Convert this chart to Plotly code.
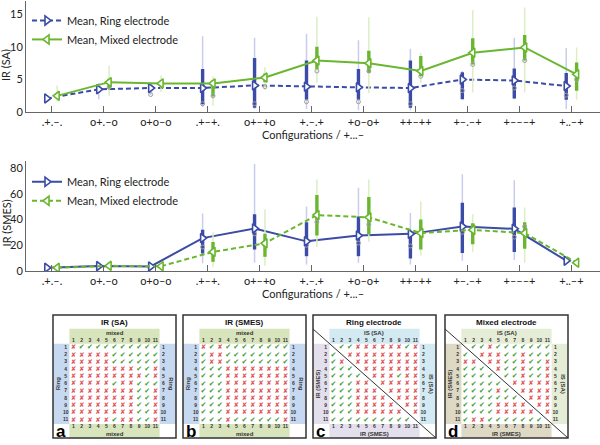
import plotly.graph_objects as go

# ---------------- data ----------------
configs = [".+.–.", "o+.–o", "o+o–o", ".+–+.", "o+–+o", "+.–.+", "+o–o+", "++–++", "+–.–+", "+–––+", "+..–+"]

# IR (SA) – ring electrode
sa_ring_mean = [2.1, 3.5, 3.7, 3.7, 4.1, 3.9, 3.8, 3.7, 5.0, 4.85, 4.0]
sa_ring_q1 = [1.9, 3.1, 3.2, 1.2, 0.7, 1.9, 1.9, 0.7, 2.0, 2.1, 1.9]
sa_ring_q3 = [2.3, 3.9, 3.9, 6.6, 8.3, 7.9, 6.6, 7.9, 6.1, 6.7, 6.0]
sa_ring_lo = [1.8, 2.0, 2.6, 0.8, 0.5, 0.5, 0.3, 0.3, 1.9, 2.0, 0.5]
sa_ring_hi = [2.4, 4.5, 4.2, 11.6, 11.4, 12.0, 11.0, 9.7, 6.3, 11.4, 9.8]
sa_ring_med = [2.0, 3.3, 2.7, 1.3, 1.3, 1.6, 1.6, 1.3, 3.3, 3.7, 2.6]

# IR (SA) – mixed electrode
sa_mix_mean = [2.5, 4.6, 4.4, 4.4, 5.3, 7.9, 7.5, 6.3, 9.1, 9.9, 5.8]
sa_mix_q1 = [2.2, 3.6, 4.0, 2.4, 4.6, 6.6, 6.0, 5.5, 7.3, 7.9, 3.3]
sa_mix_q3 = [2.8, 5.1, 4.8, 4.9, 5.9, 10.0, 9.4, 8.6, 11.3, 11.8, 7.6]
sa_mix_lo = [1.6, 2.5, 3.1, 1.0, 3.4, 4.5, 2.9, 4.5, 3.0, 3.0, 1.9]
sa_mix_hi = [4.1, 7.1, 5.6, 5.5, 6.9, 14.6, 14.5, 9.1, 15.6, 16.0, 9.9]
sa_mix_med = [2.4, 3.8, 4.2, 2.5, 3.9, 6.3, 6.3, 5.5, 7.3, 7.9, 5.0]

# IR (SMES) – ring electrode
smes_ring_mean = [2.5, 3.8, 3.5, 25.5, 33.0, 23.0, 27.5, 28.8, 34.5, 32.7, 8.0]
smes_ring_q1 = [2.0, 3.3, 3.0, 13.5, 16.6, 11.5, 11.5, 9.7, 14.0, 14.8, 7.0]
smes_ring_q3 = [3.0, 4.3, 4.0, 32.0, 44.0, 37.8, 42.2, 31.0, 53.0, 49.3, 9.0]
smes_ring_lo = [1.5, 2.8, 2.5, 6.0, 6.4, 5.0, 6.4, 5.0, 8.0, 8.5, 6.0]
smes_ring_hi = [3.5, 4.8, 4.5, 44.7, 83.0, 50.0, 64.6, 45.0, 75.0, 70.5, 10.0]
smes_ring_med = [2.3, 3.6, 3.2, 18.6, 28.8, 20.0, 21.7, 19.4, 30.0, 26.3, 7.8]

# IR (SMES) – mixed electrode
smes_mix_mean = [2.5, 4.0, 3.7, 14.8, 21.5, 43.4, 41.6, 29.4, 31.9, 29.4, 6.4]
smes_mix_q1 = [2.2, 3.5, 3.3, 7.1, 11.0, 27.6, 28.4, 16.6, 20.7, 17.3, 6.0]
smes_mix_q3 = [2.8, 4.5, 4.1, 22.5, 28.8, 59.0, 57.5, 40.0, 37.0, 37.8, 7.0]
smes_mix_lo = [1.8, 3.0, 3.0, 3.0, 4.0, 18.6, 22.5, 12.0, 15.0, 6.4, 5.5]
smes_mix_hi = [3.2, 5.0, 4.5, 30.0, 48.0, 71.0, 71.0, 54.0, 44.0, 49.3, 7.5]
smes_mix_med = [2.4, 3.8, 3.5, 13.5, 20.0, 38.0, 36.0, 30.0, 33.0, 34.5, 6.3]

# significance grids: v = check, x = cross, . = empty
grid_a = [
    "xvvvvvvvvvv",
    "xxxxxvvvvvv",
    "xxxxxvvvvvv",
    "xxxxxxxxvvx",
    "xxxxxxxxxvx",
    "xxxxxvxxvvv",
    "xxxxxxxxvvx",
    "xxxxxxxxvvx",
    "xxxxxxxxvvx",
    "xxxxxxxxvvx",
    "xxxxxvxxvvx",
]
grid_b = [
    "xvxvvvvvvvv",
    "vxxvvvvvvvv",
    "vxxvvvvvvvv",
    "vvvxxxxxxxx",
    "vvvxxxxxxxx",
    "vvvxxxxxxxx",
    "vvvxxxxxxxx",
    "vvvxxxxxxxx",
    "vvvxxxxxxxx",
    "vvvxxxxxxxx",
    "vvvxvvvvvvx",
]
grid_c = [
    ".vvxxxxxxvx",
    "v.xxxxxxxxx",
    "vx.xxxxxxxx",
    "vvv.xxxxxxx",
    "vvvv.xxxvxx",
    "vvvxx.xxxxx",
    "vvvxxx.xxxx",
    "vvvxxxx.xxx",
    "vvvxxxxx.xx",
    "vvvxxxxxx.x",
    "vvvvvvvvvv.",
]
grid_d = [
    ".vvxvvvvvvv",
    "v.xxxvvxvvv",
    "xx.xxvvxvvx",
    "vvv.xvvxvvx",
    "vvvv.vvxvvx",
    "vvvvv.xxxxx",
    "vvvvxv.xxxx",
    "vvvvvvv.xxx",
    "vvvvxxxx.xx",
    "vvvvxxxxx.x",
    "vxxvvvvvvv.",
]
grid_numbers = [str(i) for i in range(1, 12)]

# ---------------- styling ----------------
W, H = 600, 445
BLUE = "#3B4BA6"
GREEN = "#68B72F"
LBLUE = "#C9CDEB"
LGREEN = "#DDEDC4"
FONT = "Lato"
TXT = "#222222"


def fx(p):
    return p / W


def fy(p):
    return 1 - p / H


fig = go.Figure()


def seg(xs, lo, hi, color, width, xa, ya):
    X, Y = [], []
    for x, a, b in zip(xs, lo, hi):
        X += [x, x, None]
        Y += [a, b, None]
    return go.Scatter(x=X, y=Y, mode="lines", line=dict(color=color, width=width),
                      showlegend=False, hoverinfo="skip", xaxis=xa, yaxis=ya)


def add_group(offset, mean, q1, q3, lo, hi, med, color, light, dash, symbol, name, xa, ya, legend):
    xs = [i + offset for i in range(len(configs))]
    fig.add_trace(seg(xs, lo, hi, light, 1.5, xa, ya))
    fig.add_trace(seg(xs, q1, q3, color, 3.4, xa, ya))
    fig.add_trace(go.Scatter(x=xs, y=med, mode="markers", showlegend=False, hoverinfo="skip",
                             marker=dict(symbol="circle-open", size=4, color="#a0a0a0", line=dict(width=1)),
                             xaxis=xa, yaxis=ya))
    fig.add_trace(go.Scatter(x=xs, y=mean, mode="lines+markers", name=name,
                             line=dict(color=color, width=2, dash=dash),
                             marker=dict(symbol=symbol, size=8, color="white", line=dict(color=color, width=1.6)),
                             xaxis=xa, yaxis=ya, legend=legend))


DASH = "5px,3px"
add_group(-0.1, sa_ring_mean, sa_ring_q1, sa_ring_q3, sa_ring_lo, sa_ring_hi, sa_ring_med,
          BLUE, LBLUE, DASH, "triangle-right", "Mean, Ring electrode", "x", "y", "legend")
add_group(0.1, sa_mix_mean, sa_mix_q1, sa_mix_q3, sa_mix_lo, sa_mix_hi, sa_mix_med,
          GREEN, LGREEN, "solid", "triangle-left", "Mean, Mixed electrode", "x", "y", "legend")
add_group(-0.1, smes_ring_mean, smes_ring_q1, smes_ring_q3, smes_ring_lo, smes_ring_hi, smes_ring_med,
          BLUE, LBLUE, "solid", "triangle-right", "Mean, Ring electrode", "x2", "y2", "legend2")
add_group(0.1, smes_mix_mean, smes_mix_q1, smes_mix_q3, smes_mix_lo, smes_mix_hi, smes_mix_med,
          GREEN, LGREEN, DASH, "triangle-left", "Mean, Mixed electrode", "x2", "y2", "legend2")

xax = dict(range=[-0.5, 10.55], tickvals=list(range(len(configs))), ticktext=configs,
           ticks="inside", ticklen=6, tickcolor="#666", showline=True, linecolor="#666",
           linewidth=1, showgrid=False, zeroline=False, tickfont=dict(size=11, color=TXT, family=FONT),
           title=dict(text="Configurations / +...–", font=dict(size=11, color=TXT, family=FONT), standoff=0))
yax = dict(showline=True, linecolor="#666", linewidth=1, showgrid=False, zeroline=False,
           ticks="", tickfont=dict(size=11, color=TXT, family=FONT))

layout = dict(
    width=W, height=H, margin=dict(l=0, r=0, t=0, b=0),
    paper_bgcolor="white", plot_bgcolor="white", showlegend=True,
    font=dict(family=FONT, color=TXT),
    xaxis=dict(xax, domain=[fx(26), 1], anchor="y"),
    yaxis=dict(yax, domain=[fy(113), 1], range=[0, 17], tickvals=[0, 5, 10, 15], anchor="x"),
    xaxis2=dict(xax, domain=[fx(26), 1], anchor="y2"),
    yaxis2=dict(yax, domain=[fy(274.3), fy(163)], range=[0, 85], tickvals=[0, 20, 40, 60, 80], anchor="x2"),
    legend=dict(x=fx(27), y=fy(5), xanchor="left", yanchor="top", bgcolor="rgba(0,0,0,0)",
                font=dict(size=11, family=FONT, color=TXT), itemwidth=30, tracegroupgap=0),
    legend2=dict(x=fx(27), y=fy(169), xanchor="left", yanchor="top", bgcolor="rgba(0,0,0,0)",
                 font=dict(size=11, family=FONT, color=TXT), itemwidth=30, tracegroupgap=0),
)

annotations = [
    dict(text="IR (SA)", x=fx(6), y=fy(65), xref="paper", yref="paper", showarrow=False,
         xanchor="center", yanchor="middle", textangle=-90, font=dict(size=11, family=FONT, color=TXT)),
    dict(text="IR (SMES)", x=fx(6), y=fy(226), xref="paper", yref="paper", showarrow=False,
         xanchor="center", yanchor="middle", textangle=-90, font=dict(size=11, family=FONT, color=TXT)),
]
shapes = []

# ---------------- bottom panels ----------------
panels = [
    dict(letter="a", title="IR (SA)", grid=grid_a, left=53, top_lab="mixed", bot_lab="mixed",
         left_lab="Ring", right_lab="Ring", c_top="#D8E4BC", c_bot="#D8E4BC", c_left="#C6D9F0",
         c_right="#C6D9F0", diag=False),
    dict(letter="b", title="IR (SMES)", grid=grid_b, left=183, top_lab="mixed", bot_lab="mixed",
         left_lab="Ring", right_lab="Ring", c_top="#D8E4BC", c_bot="#D8E4BC", c_left="#C6D9F0",
         c_right="#C6D9F0", diag=False),
    dict(letter="c", title="Ring electrode", grid=grid_c, left=313, top_lab="IS (SA)", bot_lab="IR (SMES)",
         left_lab="IR (SMES)", right_lab="IS (SA)", c_top="#D3EAF3", c_bot="#E4DFEC", c_left="#E4DFEC",
         c_right="#D3EAF3", diag=True),
    dict(letter="d", title="Mixed electrode", grid=grid_d, left=445, top_lab="IS (SA)", bot_lab="IR (SMES)",
         left_lab="IR (SMES)", right_lab="IS (SA)", c_top="#E6EDD6", c_bot="#DDD9C4", c_left="#DDD9C4",
         c_right="#E6EDD6", diag=True),
]

PW = 123
for k, p in enumerate(panels):
    n = k + 3
    xa, ya = f"x{n}", f"y{n}"
    layout[f"xaxis{n}"] = dict(domain=[fx(p["left"]), fx(p["left"] + PW)], range=[-1.5, 13.5],
                               visible=False, anchor=ya, fixedrange=True)
    layout[f"yaxis{n}"] = dict(domain=[fy(444), fy(319)], range=[13.5, -3.54],
                               visible=False, anchor=xa, fixedrange=True)
    bands = [
        (0.5, 11.5, -1.65, 0.45, p["c_top"]),
        (0.5, 11.5, 11.55, 13.5, p["c_bot"]),
        (-1.5, 0.5, 0.45, 11.55, p["c_left"]),
        (11.5, 13.5, 0.45, 11.55, p["c_right"]),
    ]
    for x0, x1, y0, y1, col in bands:
        shapes.append(dict(type="rect", xref=xa, yref=ya, x0=x0, x1=x1, y0=y0, y1=y1,
                           fillcolor=col, line=dict(width=0), layer="below"))
    shapes.append(dict(type="rect", xref=f"{xa} domain", yref=f"{ya} domain", x0=0, x1=1, y0=0, y1=1,
                       line=dict(color="#333", width=1.5), layer="above"))
    if p["diag"]:
        shapes.append(dict(type="line", xref=xa, yref=ya, x0=-1.5, y0=-1.6, x1=13.5, y1=13.5,
                           line=dict(color="#333", width=1), layer="above"))
    cx, cy, xx, xy = [], [], [], []
    for r, row in enumerate(p["grid"]):
        for c, ch in enumerate(row):
            if ch == "v":
                cx.append(c + 1); cy.append(r + 1)
            elif ch == "x":
                xx.append(c + 1); xy.append(r + 1)
    fig.add_trace(go.Scatter(x=cx, y=cy, mode="text", text=["✔"] * len(cx), showlegend=False,
                             textfont=dict(size=7, color="#3E9B35", family="DejaVu Sans"),
                             hoverinfo="skip", xaxis=xa, yaxis=ya))
    fig.add_trace(go.Scatter(x=xx, y=xy, mode="text", text=["✘"] * len(xx), showlegend=False,
                             textfont=dict(size=6.5, color="#E0565B", family="DejaVu Sans"),
                             hoverinfo="skip", xaxis=xa, yaxis=ya))
    idx = list(range(1, 12))
    nfont = dict(size=5, color="#333", family="Liberation Sans")
    for xs_, ys_ in [(idx, [0.0] * 11), (idx, [12.0] * 11), ([0.05] * 11, idx), ([11.95] * 11, idx)]:
        fig.add_trace(go.Scatter(x=xs_, y=ys_, mode="text", text=[f"<b>{t}</b>" for t in grid_numbers],
                                 textfont=nfont, showlegend=False, hoverinfo="skip", xaxis=xa, yaxis=ya))
    lfont = dict(size=6, color="#333", family="Liberation Sans")
    annotations += [
        dict(text=f"<b>{p['title']}</b>", x=6, y=-2.5, xref=xa, yref=ya, showarrow=False,
             font=dict(size=8, color="#111", family="Liberation Sans")),
        dict(text=f"<b>{p['top_lab']}</b>", x=6, y=-1.0, xref=xa, yref=ya, showarrow=False, font=lfont),
        dict(text=f"<b>{p['bot_lab']}</b>", x=6, y=12.95, xref=xa, yref=ya, showarrow=False, font=lfont),
        dict(text=f"<b>{p['left_lab']}</b>", x=-0.95, y=6, xref=xa, yref=ya, showarrow=False,
             textangle=-90, font=lfont),
        dict(text=f"<b>{p['right_lab']}</b>", x=12.85, y=6, xref=xa, yref=ya, showarrow=False,
             textangle=90, font=lfont),
        dict(text=f"<b>{p['letter']}</b>", x=-0.55, y=12.55, xref=xa, yref=ya, showarrow=False,
             font=dict(size=17, color="#000", family="Liberation Sans")),
    ]

layout["annotations"] = annotations
layout["shapes"] = shapes
fig.update_layout(**layout)
fig.write_html("out.html", config={"displayModeBar": False},
               post_script="document.body.style.margin='0';")
